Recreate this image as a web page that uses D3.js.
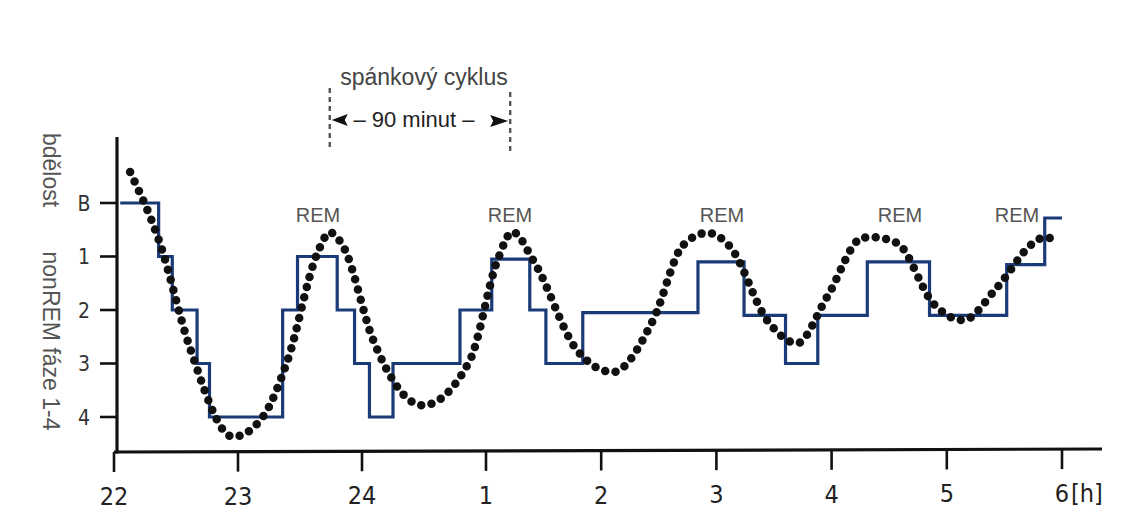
<!DOCTYPE html>
<html>
<head>
<meta charset="utf-8">
<script src="https://cdn.jsdelivr.net/npm/d3@7/dist/d3.min.js"></script>
<style>
  html, body { margin: 0; padding: 0; background: #fff; }
  svg { display: block; }
</style>
</head>
<body>
<svg id="chart" width="1127" height="515"></svg>
<script>
// ---------- data ----------
const xTickHours  = [22, 23, 24, 25, 26, 27, 28, 29, 30];
const xTickLabels = ["22", "23", "24", "1", "2", "3", "4", "5", "6"];
const yTickLevels = [0, 1, 2, 3, 4];
const yTickLabels = ["B", "1", "2", "3", "4"];

// hypnogram (step line): time in hours (24 = midnight), stage level (0 = bdělost)
const stepHours  = [22.05, 22.36, 22.47, 22.67, 22.77, 23.36, 23.48, 23.80, 23.94, 24.06, 24.25, 24.79, 25.05, 25.38, 25.52, 25.84, 26.84, 27.24, 27.60, 27.88, 28.31, 28.85, 29.52, 29.85, 30.0];
const stepLevels = [0,     1,     2,     3,     4,     2,     1,     2,     3,     4,     3,     2,     1.05,  2,     3,     2.05,  1.1,   2.1,   3,     2.1,   1.1,   2.1,   1.15,  0.28,  0.28];

// dotted sleep-depth curve
const curveHours  = [22.13, 22.37, 22.61, 22.96, 23.20, 23.40, 23.64, 23.74, 23.85, 24.09, 24.49, 24.87, 25.10, 25.23, 25.41, 25.79, 26.10, 26.45, 26.71, 26.92, 27.12, 27.44, 27.70, 27.96, 28.27, 28.36, 28.57, 28.88, 29.14, 29.44, 29.75, 29.85, 29.97];
const curveLevels = [-0.58, 0.75,  2.69,  4.37,  4.00,  2.94,  0.94,  0.55,  0.82,  2.56,  3.78,  2.94,  1.07,  0.54,  1.07,  2.75,  3.16,  2.19,  0.79,  0.56,  0.82,  2.19,  2.62,  1.76,  0.65,  0.64,  0.75,  1.87,  2.19,  1.57,  0.75,  0.64,  0.73];

const remLabel = "REM";
const remHours = [23.645, 25.208, 27.049, 28.594, 29.609];

const cycleStart = 23.74;
const cycleEnd   = 25.21;
const cycleTitle = "spánkový cyklus";
const cycleLength = "– 90 minut –";
const yTitleTop = "bdělost";
const yTitleBottom = "nonREM fáze 1-4";
const xUnit = "[h]";

// ---------- scales ----------
const x = d3.scaleLinear().domain([22, 25, 30]).range([114, 486, 1062]);
const y = d3.scaleLinear().domain([0, 4]).range([203, 417]);

const svg = d3.select("#chart");
const sans = "'Liberation Sans', Arial, sans-serif";
const narrow = "'Liberation Sans Narrow', 'DejaVu Sans Condensed', 'Liberation Sans', sans-serif";

// ---------- axes ----------
const axisX0 = 117, axisY0 = 452;
svg.append("line").attr("x1", axisX0).attr("x2", axisX0).attr("y1", 137).attr("y2", axisY0 + 1.5)
  .attr("stroke", "#111").attr("stroke-width", 3.2);
svg.append("line").attr("x1", axisX0 - 3).attr("x2", 1102).attr("y1", axisY0).attr("y2", axisY0 - 3)
  .attr("stroke", "#111").attr("stroke-width", 3.2);

// x ticks
const xt = svg.append("g");
xTickHours.forEach((h, i) => {
  const px = x(h);
  const baseY = axisY0 - 3 * (px - axisX0) / (1102 - axisX0);
  xt.append("line").attr("x1", px).attr("x2", px).attr("y1", baseY).attr("y2", baseY + 20)
    .attr("stroke", "#111").attr("stroke-width", 2.6);
  xt.append("text").attr("x", px).attr("y", 505 - 3 * (px - axisX0) / (1102 - axisX0))
    .attr("text-anchor", "middle").attr("font-family", narrow).attr("font-size", 25)
    .attr("fill", "#222").text(xTickLabels[i]);
});
svg.append("text").attr("x", x(30) + 9).attr("y", 502)
  .attr("font-family", narrow).attr("font-size", 25).attr("fill", "#222").text(xUnit);

// y ticks
const yt = svg.append("g");
yTickLevels.forEach((l, i) => {
  yt.append("line").attr("x1", 100).attr("x2", axisX0).attr("y1", y(l)).attr("y2", y(l))
    .attr("stroke", "#111").attr("stroke-width", 2.6);
  yt.append("text").attr("x", 84).attr("y", y(l)).attr("dy", "0.36em")
    .attr("text-anchor", "middle").attr("font-family", narrow).attr("font-size", 21)
    .attr("fill", "#333").text(yTickLabels[i]);
});

// y titles (rotated, reading top-to-bottom)
svg.append("text").attr("transform", "translate(51,170) rotate(90)")
  .attr("text-anchor", "middle").attr("dy", "0.35em")
  .attr("font-family", sans).attr("font-size", 23).attr("fill", "#555").text(yTitleTop);
svg.append("text").attr("transform", "translate(51,341) rotate(90)")
  .attr("text-anchor", "middle").attr("dy", "0.35em")
  .attr("font-family", sans).attr("font-size", 23).attr("fill", "#555").text(yTitleBottom);

// ---------- hypnogram ----------
const stepData = stepHours.map((h, i) => [h, stepLevels[i]]);
svg.append("path")
  .attr("d", d3.line().x(d => x(d[0])).y(d => y(d[1])).curve(d3.curveStepAfter)(stepData))
  .attr("fill", "none").attr("stroke", "#1b3a78").attr("stroke-width", 3.2)
  .attr("stroke-linejoin", "miter");

// ---------- dotted curve ----------
const curveData = curveHours.map((h, i) => [h, curveLevels[i]]);
svg.append("path")
  .attr("d", d3.line().x(d => x(d[0])).y(d => y(d[1])).curve(d3.curveMonotoneX)(curveData))
  .attr("fill", "none").attr("stroke", "#111").attr("stroke-width", 8.5)
  .attr("stroke-linecap", "round").attr("stroke-dasharray", "0 10.5");

// ---------- REM labels ----------
remHours.forEach(h => {
  svg.append("text").attr("x", x(h)).attr("y", 222)
    .attr("text-anchor", "middle").attr("font-family", sans).attr("font-size", 20)
    .attr("fill", "#555").text(remLabel);
});

// ---------- cycle annotation ----------
const cx0 = x(cycleStart), cx1 = x(cycleEnd);
svg.append("line").attr("x1", cx0).attr("x2", cx0).attr("y1", 88).attr("y2", 148)
  .attr("stroke", "#555").attr("stroke-width", 2.4).attr("stroke-dasharray", "5 4");
svg.append("line").attr("x1", cx1).attr("x2", cx1).attr("y1", 92).attr("y2", 152)
  .attr("stroke", "#555").attr("stroke-width", 2.4).attr("stroke-dasharray", "5 4");
svg.append("text").attr("x", (cx0 + cx1) / 2 + 4).attr("y", 85)
  .attr("text-anchor", "middle").attr("font-family", sans).attr("font-size", 23)
  .attr("fill", "#444").text(cycleTitle);
svg.append("text").attr("x", (cx0 + cx1) / 2 - 6).attr("y", 127)
  .attr("text-anchor", "middle").attr("font-family", sans).attr("font-size", 22)
  .attr("fill", "#222").text(cycleLength);
// arrowheads
svg.append("path").attr("d", `M${cx0 + 2},120 L${cx0 + 18},114 L${cx0 + 15},120 L${cx0 + 18},126 Z`).attr("fill", "#111");
svg.append("path").attr("d", `M${cx1 - 2},121 L${cx1 - 20},115 L${cx1 - 17},121 L${cx1 - 20},127 Z`).attr("fill", "#111");
</script>
</body>
</html>
